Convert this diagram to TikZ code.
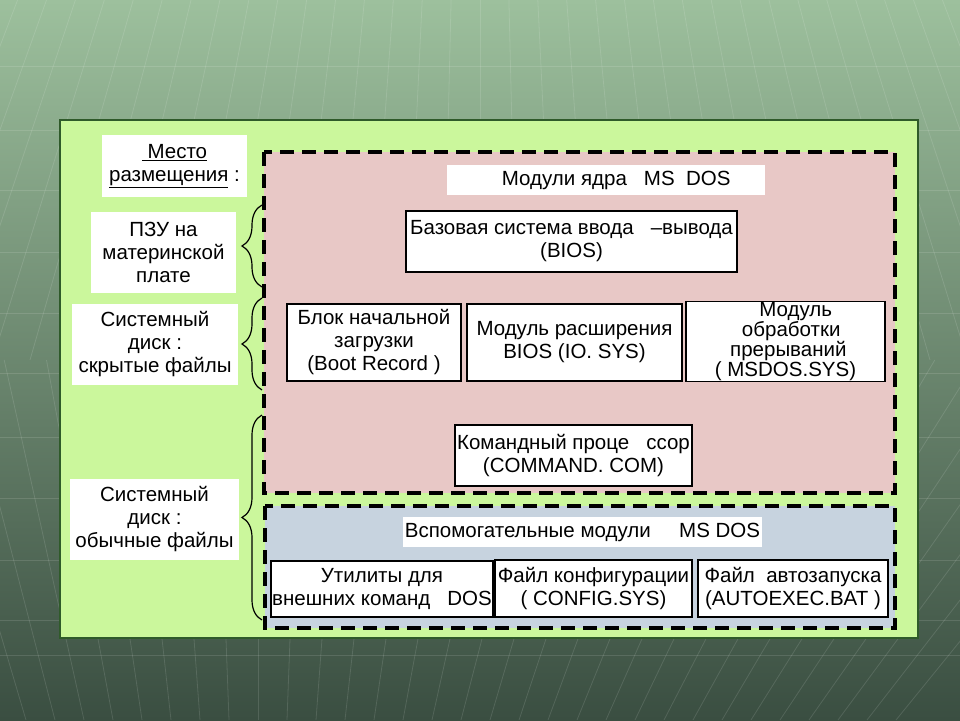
\documentclass[tikz,border=0pt]{standalone}
\usepackage{fontspec}
\setmainfont{Liberation Sans}
\usetikzlibrary{calc,decorations.pathreplacing}
\definecolor{bgtop}{HTML}{9DC09D}
\definecolor{bgmid}{HTML}{6A8A70}
\definecolor{bgbot}{HTML}{3A4E41}
\definecolor{panel}{HTML}{CBF79C}
\definecolor{panelrim}{HTML}{2F5A2A}
\definecolor{corefill}{HTML}{E8C8C6}
\definecolor{auxfill}{HTML}{C7D3DF}
\tikzset{
  gridline/.style={white,opacity=0.12,line width=0.8pt},
  zone/.style={line width=4pt,dash pattern=on 14pt off 8pt},
  modbox/.style={draw=black,line width=1.2pt,fill=white,align=center,inner sep=0pt,
    font=\fontsize{20.5}{23}\selectfont},
  headbox/.style={fill=white,align=center,inner sep=0pt,font=\fontsize{20.5}{23}\selectfont},
  placebox/.style={fill=white,align=center,inner sep=0pt,font=\fontsize{20.5}{23}\selectfont},
  brc/.style={decorate,decoration={brace,amplitude=20pt},line width=1.2pt},
}

\begin{document}
\begin{tikzpicture}[x=1pt,y=-1pt]
  \useasboundingbox (0,0) rectangle (960,720);
  % slide background
  \shade[top color=bgtop,middle color=bgmid,bottom color=bgbot] (0,0) rectangle (960,720);
  \foreach \h in {66,130,190,252,313,373,437,498,560,620,655}
    \draw[gridline] (0,\h) -- (960,\h);
  \foreach \k in {-16,...,16}
    \draw[gridline] (480+28.9*\k,0) -- (480+37.5*\k,360);
  \foreach \k in {-10,...,22}
    \draw[gridline] (258+42.3*\k,360) -- (258+29*\k,720);

  % main panel
  \filldraw[fill=panel,draw=panelrim,line width=1.5pt] (60,120) rectangle (918,638);

  % zones
  \fill[corefill] (264,152) rectangle (895,493);
  \draw[zone] (264,152) rectangle (895,493);
  \fill[auxfill] (265,506) rectangle (895,628);
  \draw[zone] (265,506) rectangle (895,628);

  % left column
  \node[placebox,minimum width=145pt,minimum height=62pt] (place) at (174.5,166)
    {\underline{\ Место}\\\underline{размещения} :};
  \node[placebox,minimum width=145pt,minimum height=81pt] (rom) at (163.5,252.5)
    {ПЗУ на\\материнской\\плате};
  \node[placebox,minimum width=166pt,minimum height=81pt] (hidden) at (155,344.5)
    {Системный\\диск :\\скрытые файлы};
  \node[placebox,minimum width=169pt,minimum height=81pt] (plain) at (154.5,519.5)
    {Системный\\диск :\\обычные файлы};

  % braces
  \coordinate (romlo) at (262,287);
  \coordinate (romhi) at (262,205);
  \coordinate (hidlo) at (262,390);
  \coordinate (hidhi) at (262,298);
  \coordinate (plainlo) at (262,620);
  \coordinate (plainhi) at (262,415);
  \draw[brc] (romlo) -- (romhi);
  \draw[brc] (hidlo) -- (hidhi);
  \draw[brc] (plainlo) -- (plainhi);

  % kernel modules
  \node[headbox,minimum width=318pt,minimum height=30pt] (core) at (606,180)
    {\quad Модули ядра\ \ \ MS\ \ DOS};
  \node[modbox,minimum width=331pt,minimum height=61pt] (bios) at (571.5,241.5)
    {Базовая система ввода\ \ \ –вывода\\(BIOS)};
  \node[modbox,minimum width=174pt,minimum height=77pt] (boot) at (374,342.5)
    {Блок начальной\\загрузки\\(Boot Record )};
  \node[modbox,minimum width=215pt,minimum height=77pt] (iosys) at (574.5,342.5)
    {Модуль расширения\\BIOS (IO. SYS)};
  \node[modbox,minimum width=199pt,minimum height=77pt,
    font=\fontsize{20.5}{17.5}\selectfont] (msdos) at (785.5,341.5)
    {\quad Модуль\\\ \ обработки\\\ прерываний\\( MSDOS.SYS)};
  \node[modbox,minimum width=237pt,minimum height=61pt] (cmd) at (573.5,455.5)
    {Командный проце\ \ \ ссор\\(COMMAND. COM)};

  % auxiliary modules
  \node[headbox,minimum width=359pt,minimum height=30pt] (aux) at (582.5,532)
    {Вспомогательные модули\ \ \ \ \ MS DOS};
  \node[modbox,minimum width=222pt,minimum height=56pt] (util) at (382,589)
    {Утилиты для\\внешних команд\ \ \ DOS};
  \node[modbox,minimum width=197pt,minimum height=57pt] (config) at (593.5,588.5)
    {Файл конфигурации\\( CONFIG.SYS)};
  \node[modbox,minimum width=190pt,minimum height=57pt] (autoexec) at (793,588.5)
    {Файл\ \ автозапуска\\(AUTOEXEC.BAT )};
\end{tikzpicture}
\end{document}
